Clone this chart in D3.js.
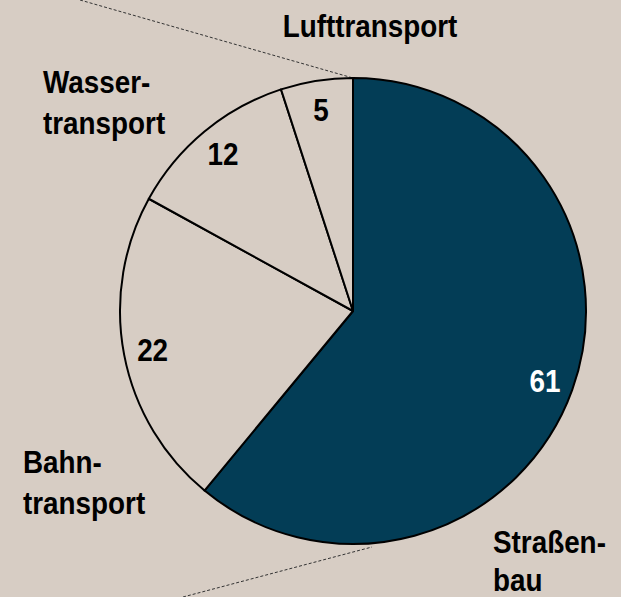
<!DOCTYPE html>
<html><head><meta charset="utf-8">
<script src="https://cdn.jsdelivr.net/npm/d3@7"></script>
<style>
html,body{margin:0;padding:0;background:#d7cdc4;}
svg{display:block;}
text{font-family:"Liberation Sans",Arial,sans-serif;font-weight:bold;}
</style></head>
<body>
<script>
const categories = ["Straßenbau", "Bahntransport", "Wassertransport", "Lufttransport"];
const values = [61, 22, 12, 5];
const labelLines = [["Straßen-", "bau"], ["Bahn-", "transport"], ["Wasser-", "transport"], ["Lufttransport"]];

const W = 621, H = 597;
const cx = 353, cy = 311, R = 233, labelR = 204;
const bg = "#d7cdc4", dark = "#033d56";
const fills = [dark, bg, bg, bg];
const numColors = ["#ffffff", "#000000", "#000000", "#000000"];
const sx = 0.87;

const svg = d3.select("body").append("svg").attr("width", W).attr("height", H);
svg.append("rect").attr("width", W).attr("height", H).attr("fill", bg);

// dotted zoom lines
svg.append("line").attr("x1", 80).attr("y1", 0).attr("x2", cx).attr("y2", cy - R)
  .attr("stroke", "#333").attr("stroke-width", 1).attr("stroke-dasharray", "3,2");
svg.append("line").attr("x1", 183).attr("y1", 597).attr("x2", 372).attr("y2", cy - R + 469)
  .attr("stroke", "#333").attr("stroke-width", 1).attr("stroke-dasharray", "3,2");

const pie = d3.pie().sort(null).value(d => d)(values);
const arc = d3.arc().innerRadius(0).outerRadius(R);
const labelArc = d3.arc().innerRadius(labelR).outerRadius(labelR);

const g = svg.append("g").attr("transform", `translate(${cx},${cy})`);
g.selectAll("path").data(pie).join("path")
  .attr("d", arc)
  .attr("fill", (d, i) => fills[i])
  .attr("stroke", "#000").attr("stroke-width", 2).attr("stroke-linejoin", "round");

g.selectAll("text.num").data(pie).join("text").attr("class", "num")
  .attr("transform", d => { const [x, y] = labelArc.centroid(d); return `translate(${x},${y + 11.5}) scale(${sx},1)`; })
  .attr("text-anchor", "middle")
  .attr("font-size", 32)
  .attr("fill", (d, i) => numColors[i])
  .text(d => d.data);

// category labels
const labelPos = [
  {x: 493, y: 553, anchor: "start", lh: 38},
  {x: 23, y: 473, anchor: "start", lh: 41},
  {x: 43, y: 93, anchor: "start", lh: 41},
  {x: 370, y: 37, anchor: "middle", lh: 40}
];
labelLines.forEach((lines, i) => {
  const p = labelPos[i];
  lines.forEach((t, j) => {
    svg.append("text")
      .attr("transform", `translate(${p.x},${p.y + j * p.lh}) scale(${sx},1)`)
      .attr("text-anchor", p.anchor)
      .attr("font-size", 32)
      .attr("fill", "#000")
      .text(t);
  });
});
</script>
</body></html>
